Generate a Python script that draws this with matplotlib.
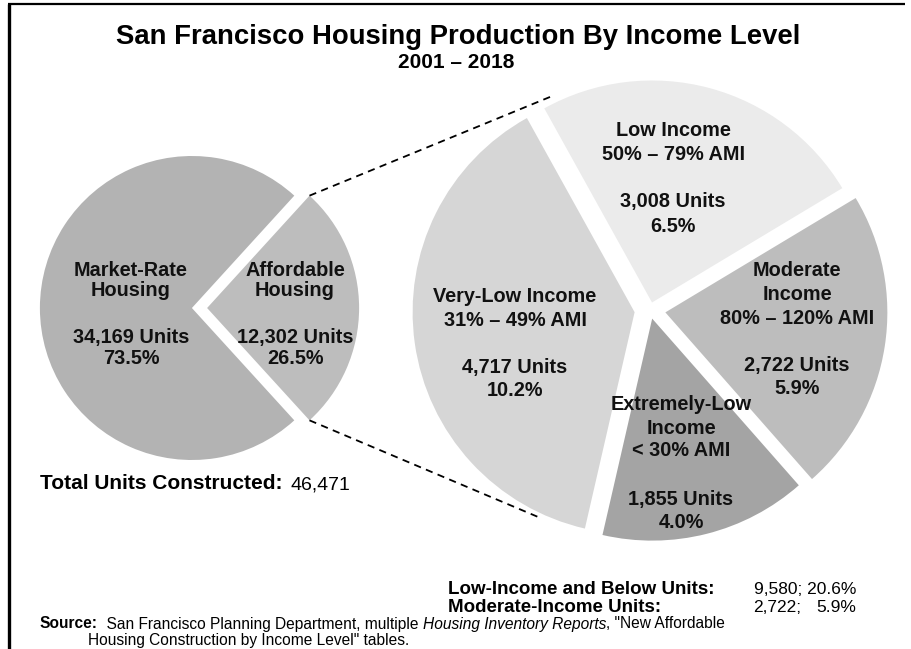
import numpy as np
import matplotlib
matplotlib.use("Agg")
import matplotlib.pyplot as plt

# ---------------- data ----------------
main_categories = ["Market-Rate\nHousing", "Affordable\nHousing"]
main_units = [34169, 12302]
main_pct = [73.5, 26.5]

aff_categories = ["Low Income", "Very-Low Income", "Extremely-Low\nIncome", "Moderate\nIncome"]
aff_ranges = ["50% \u2013 79% AMI", "31% \u2013 49% AMI", "< 30% AMI", "80% \u2013 120% AMI"]
aff_units = [3008, 4717, 1855, 2722]
aff_pct = [6.5, 10.2, 4.0, 5.9]

total_units = 46471
low_below_units, low_below_pct = 9580, 20.6
moderate_units, moderate_pct = 2722, 5.9

title = "San Francisco Housing Production By Income Level"
subtitle = "2001 \u2013 2018"

# ---------------- styling ----------------
W, H = 911, 649
ARIAL = ["Liberation Sans", "DejaVu Sans"]

fig = plt.figure(figsize=(W / 100, H / 100), dpi=100)
ax = fig.add_axes([0, 0, 1, 1])

def Y(y):
    return H - y

# left pie
lc = (199.5, Y(308))
lr = 152
left_explode_frac = [0.05, 0.05]
aff_half = 360 * main_units[1] / sum(main_units) / 2
lw_, lt_ = ax.pie([main_units[1], main_units[0]], center=lc, radius=lr,
                  startangle=-aff_half, counterclock=True,
                  explode=[e * lr for e in left_explode_frac],
                  colors=["#bdbdbd", "#b3b3b3"],
                  wedgeprops=dict(linewidth=0))

# right pie
rc = (650, Y(310))
rr = 222
right_explode_frac = [0.035, 0.07, 0.04, 0.07]
rw, rt = ax.pie(aff_units, center=rc, radius=rr, startangle=31, counterclock=True,
                explode=[e * rr for e in right_explode_frac],
                colors=["#ebebeb", "#d6d6d6", "#a4a4a4", "#bdbdbd"],
                wedgeprops=dict(linewidth=0))

ax.set_xlim(0, W)
ax.set_ylim(0, H)
ax.set_aspect("equal")
ax.axis("off")

# dashed connector lines
aw = lw_[0]
acx, acy = aw.center
for th, ang in [(aw.theta2, 115.0), (aw.theta1, 241.5)]:
    x0 = acx + lr * np.cos(np.radians(th))
    y0 = acy + lr * np.sin(np.radians(th))
    x1 = rc[0] + 1.06 * rr * np.cos(np.radians(ang))
    y1 = rc[1] + 1.06 * rr * np.sin(np.radians(ang))
    ax.plot([x0, x1], [y0, y1], color="black", lw=1.3, ls=(0, (4.0, 3.0)))

FS = 14.3

def lines(x, ys, texts, size=FS):
    for y, t in zip(ys, texts):
        ax.text(x, Y(y), t, ha="center", va="center", fontsize=size,
                fontweight="bold", family=ARIAL, color="#111111")

# left pie labels
mk = main_categories[0].split("\n")
af = main_categories[1].split("\n")
lines(131, [270, 290], mk)
lines(131, [338, 358], [f"{main_units[0]:,} Units", f"{main_pct[0]:.1f}%"])
lines(295, [270, 290], af)
lines(295, [338, 358], [f"{main_units[1]:,} Units", f"{main_pct[1]:.1f}%"])

# right pie labels
label_pos = [
    (673, [130, 155], [202, 226]),
    (515, [296, 320], [368, 391]),
    (681, [404, 428, 451], [499, 523]),
    (797, [270, 294, 319], [365, 389]),
]
for (x, yn, yv), cat, rng, u, p in zip(label_pos, aff_categories, aff_ranges, aff_units, aff_pct):
    lines(x, yn, cat.split("\n") + [rng])
    lines(x, yv, [f"{u:,} Units", f"{p:.1f}%"])

# titles
ax.text(458, Y(37), title, ha="center", va="center", fontsize=19.8,
        fontweight="bold", family=ARIAL)
ax.text(456, Y(63), subtitle, ha="center", va="center", fontsize=15,
        fontweight="bold", family=ARIAL)

# total units
t1 = ax.text(40, Y(489), "Total Units Constructed:", ha="left", va="baseline",
             fontsize=15, fontweight="bold", family=ARIAL)
ax.annotate(f"{total_units:,}", xy=(1, Y(489)), xycoords=(t1, ax.transData),
            xytext=(6, 0), textcoords="offset points", ha="left", va="baseline",
            fontsize=14, family=ARIAL)

# bottom right summary
BL, BV = 13.5, 12.5
ax.text(448, Y(589), "Low-Income and Below Units:", ha="left", va="center",
        fontsize=BL, fontweight="bold", family=ARIAL)
v1 = ax.text(856, Y(589), f"{low_below_units:,}; {low_below_pct:.1f}%", ha="right",
             va="center", fontsize=BV, family=ARIAL)
ax.text(448, Y(607), "Moderate-Income Units:", ha="left", va="center",
        fontsize=BL, fontweight="bold", family=ARIAL)
ax.annotate(f"{moderate_units:,};", xy=(0, Y(607)), xycoords=(v1, ax.transData),
            ha="left", va="center", fontsize=BV, family=ARIAL)
ax.text(856, Y(607), f"{moderate_pct:.1f}%", ha="right", va="center",
        fontsize=BV, family=ARIAL)

# source
SS = 11.2
s1 = ax.text(40, Y(624), "Source:", ha="left", va="center", fontsize=SS,
             fontweight="bold", family=ARIAL)
s2 = ax.annotate("  San Francisco Planning Department, multiple ", xy=(1, 0), xycoords=s1,
                 ha="left", va="bottom", fontsize=SS, family=ARIAL)
s3 = ax.annotate("Housing Inventory Reports", xy=(1, 0), xycoords=s2,
                 ha="left", va="bottom", fontsize=SS, family=ARIAL, style="italic")
ax.annotate(', "New Affordable', xy=(1, 0), xycoords=s3,
            ha="left", va="bottom", fontsize=SS, family=ARIAL)
ax.text(88, Y(640), 'Housing Construction by Income Level" tables.', ha="left",
        va="center", fontsize=SS, family=ARIAL)

# frame lines
ax.plot([8, 905], [Y(4), Y(4)], color="black", lw=1.6, solid_capstyle="butt")
ax.plot([9, 9], [Y(4), 0], color="black", lw=2.4, solid_capstyle="butt")

fig.savefig("out.png", dpi=100)
